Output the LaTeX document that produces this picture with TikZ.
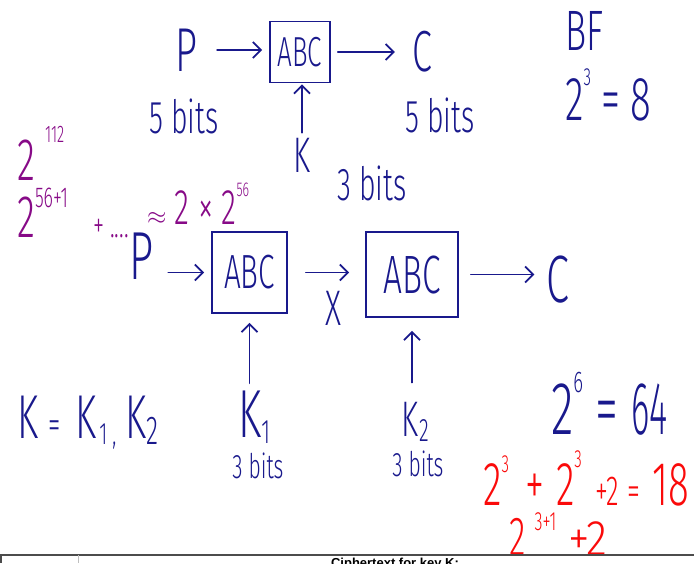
\documentclass[tikz,border=0pt]{standalone}
\usepackage{fontspec}
\setmainfont{Fira Sans Light}[FakeStretch=0.62]
\newfontfamily\tablefont{Liberation Sans}
\usetikzlibrary{arrows.meta,positioning}

\definecolor{ink}{RGB}{25,25,140}
\definecolor{plum}{RGB}{135,10,135}
\definecolor{redink}{RGB}{250,10,10}
\newcommand\fs[1]{\fontsize{#1}{#1}\selectfont}
\newcommand\hsup[2][0.55em]{\raisebox{#1}{\scalebox{0.4}{#2}}}
\newcommand\hsub[1]{\raisebox{-0.1em}{\scalebox{0.5}{#1}}}

\begin{document}
\begin{tikzpicture}[x=1pt, y=-1pt,
    hw/.style={inner sep=0pt, text=ink},
    calc/.style={inner sep=0pt, anchor=base west},
    cipher/.style={draw=ink, line width=1.8pt, inner sep=0pt, text=ink},
    arr/.style={-{Straight Barb[length=8pt, width=16pt]}, line width=1.8pt, draw=ink, line cap=round}
]
\clip (0,0) rectangle (694,563);

% single cipher
\node[cipher, minimum width=60pt, minimum height=61pt, font=\fs{42}] (box) at (300,52) {ABC};
\node[hw, font=\fs{62}] (P) at (186,50) {P};
\node[hw, font=\fs{58}] (C) at (422,52) {C};
\node[hw, font=\fs{50}] (K) at (302,155) {K};
\node[hw, font=\fs{46}] (pbits) at (184,116) {5 bits};
\node[hw, font=\fs{46}] (cbits) at (440,115) {5 bits};
\node[hw, font=\fs{46}] (kbits) at (372,183) {3 bits};
\draw[arr, shorten <=20pt, shorten >=7pt] (P) -- (P -| box.west);
\draw[arr, shorten <=7pt, shorten >=17pt] (box.east |- C) -- (C);
\draw[arr, shorten <=5pt, shorten >=1pt] (K) -- (K |- box.south);

% brute force count
\node[calc, text=ink, font=\fs{57}] (bf) at (565,50) {BF};
\node[calc, text=ink, font=\fs{62}] (bfcount) at (565,120) {2\hsup{3}\,=\,8};

% double cipher
\node[cipher, minimum width=75pt, minimum height=81pt, font=\fs{48}] (enc1) at (249.5,272.5) {ABC};
\node[cipher, minimum width=92pt, minimum height=85pt, font=\fs{54}] (enc2) at (412,274.5) {ABC};
\node[hw, font=\fs{68}] (P2) at (142,256) {P};
\node[hw, font=\fs{67}] (C2) at (558,280) {C};
\node[hw, font=\fs{50}] (X) at (333,308) {X};
\node[calc, text=ink, font=\fs{68}] (K1) at (238,437) {K\hsub{1}};
\node[calc, text=ink, font=\fs{50}] (K2) at (401,436) {K\hspace{1pt}\hsub{\scalebox{1.3}{2}}};
\node[hw, font=\fs{34}] (k1bits) at (258,466) {3 bits};
\node[hw, font=\fs{34}] (k2bits) at (418,464) {3 bits};
\draw[arr, shorten <=14pt, shorten >=7pt] (P2.east |- enc1.west) -- (enc1.west);
\draw[arr, shorten <=18pt, shorten >=16pt] (enc1.east) -- (enc1.east -| enc2.west);
\draw[arr, shorten <=12pt, shorten >=12pt] (enc2.east) -- (enc2.east -| C2.west);
\draw[arr, shorten <=7pt, shorten >=9pt] (K1.north -| enc1.south) -- (enc1.south);
\draw[arr, shorten <=19pt, shorten >=13pt] (K2.north -| enc2.south) -- (enc2.south);

\node[calc, text=ink, font=\fs{62}] (keypair) at (17,438) {K\hspace{10pt}{\fs{40}=}\hspace{15pt}K\hspace{3pt}\hsub{1}\hspace{5pt}\hsub{,}\hspace{9pt}K\hsub{\scalebox{1.3}{2}}};
\node[calc, text=ink, font=\fs{75}] (dfcount) at (551,434) {2\hsup{6}\,=\,\scalebox{0.75}[1]{64}};

% purple notes
\node[calc, text=plum, font=\fs{60}] (big) at (17,180) {2\,\hsup[0.62em]{112}};
\node[calc, text=plum, font=\fs{60}] (mitm) at (17,237) {2\hsup[0.5em]{\scalebox{1.2}{56+1}}};
\node[calc, text=plum, font=\fs{36}] (mitmplus) at (93,237) {+\,....};
\node[calc, text=plum, font=\fs{50}] (approx) at (147,224) {{\fs{30}$\approx$}\,2\,×\,2\hsup{56}};

% red notes
\node[calc, text=redink, font=\fs{62}] (sum) at (483,505) {2\hsup[0.52em]{3}\hspace{16pt}+\hspace{12pt}2\hsup[0.6em]{3}\hspace{14pt}{\fs{42}+2\hspace{8pt}=\hspace{12pt}}18};
\node[calc, text=redink, font=\fs{55}] (sumb) at (509,555) {2\,\hsup[0.45em]{\scalebox{1.2}{3+1}}\hspace{12pt}{\fs{50}\scalebox{1.4}[1]{+2}}};

% table edge
\draw[line width=2pt, black!70] (0,555) -- (694,555);
\draw[line width=2pt, black!70] (1,555) -- (1,563);
\draw[line width=1pt, black!25] (78,555) -- (78,563);
\node[inner sep=0pt, anchor=north, font=\tablefont\bfseries\fs{13}] (tabhead) at (395,558) {Ciphertext for key K:};
\end{tikzpicture}
\end{document}
